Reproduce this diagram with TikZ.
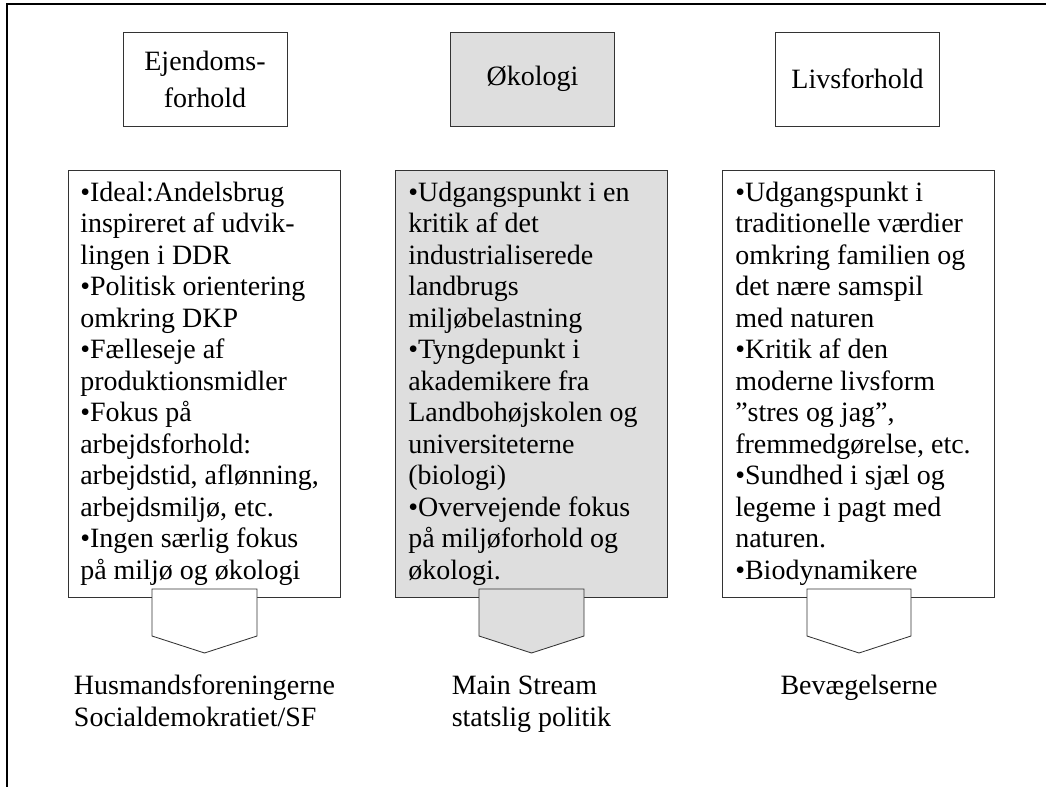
\documentclass[tikz,border=0pt]{standalone}
\usepackage{fontspec}
\setmainfont{Liberation Serif}
\usetikzlibrary{arrows, positioning}

\begin{document}
\begin{tikzpicture}[x=0.025cm, y=-0.025cm]
	\tikzstyle{Head} = [rectangle, minimum width=4.1cm, minimum height=2.35cm, align=center, draw=black!80, line width=0.6pt, font=\fontsize{19.9}{26.3}\selectfont]
	\tikzstyle{Box} = [rectangle, minimum width=6.8cm, minimum height=10.675cm, draw=black!80, line width=0.6pt]
	\tikzstyle{Txt} = [anchor=north west, inner sep=0pt, align=left, font=\fontsize{19.9}{22.4}\selectfont]
	\tikzstyle{Out} = [align=left, inner sep=0pt, font=\fontsize{19.9}{22.4}\selectfont]
	\tikzstyle{Arrow} = [draw=black!80, line width=0.6pt, fill=white]
	\tikzstyle{Shade} = [fill=black!13]

	\useasboundingbox (0,0) rectangle (1046,787);
	\draw [line width=1.5pt, black] (7,787) -- (7,4) -- (1046,4);

	% overskrifter
	\node (h1) [Head] at (205,79) {Ejendoms-\\forhold};
	\node (h2) [Head, Shade] at (532.5,79) {Økologi};
	\node (h3) [Head] at (857.5,79) {Livsforhold};

	% kasser
	\node (b1) [Box] at (204,383.5) {};
	\node (b2) [Box, Shade] at (531.5,383.5) {};
	\node (b3) [Box] at (858,383.5) {};

	\node (t1) [Txt] at (80,179) {\strut•Ideal:Andelsbrug\\
		inspireret af udvik-\\
		lingen i DDR\\
		•Politisk orientering\\
		omkring DKP\\
		•Fælleseje af\\
		produktionsmidler\\
		•Fokus på\\
		arbejdsforhold:\\
		arbejdstid, aflønning,\\
		arbejdsmiljø, etc.\\
		•Ingen særlig fokus\\
		på miljø og økologi};
	\node (t2) [Txt] at (408,179) {\strut•Udgangspunkt i en\\
		kritik af det\\
		industrialiserede\\
		landbrugs\\
		miljøbelastning\\
		•Tyngdepunkt i\\
		akademikere fra\\
		Landbohøjskolen og\\
		universiteterne\\
		(biologi)\\
		•Overvejende fokus\\
		på miljøforhold og\\
		økologi.};
	\node (t3) [Txt] at (735,179) {\strut•Udgangspunkt i\\
		traditionelle værdier\\
		omkring familien og\\
		det nære samspil\\
		med naturen\\
		•Kritik af den\\
		moderne livsform\\
		”stres og jag”,\\
		fremmedgørelse, etc.\\
		•Sundhed i sjæl og\\
		legeme i pagt med\\
		naturen.\\
		•Biodynamikere};

	% pile
	\draw [Arrow] (152,589) -- (257,589) -- (257,636) -- (204.5,653) -- (152,636) -- cycle;
	\draw [Arrow, Shade] (479,589) -- (584,589) -- (584,636) -- (531.5,653) -- (479,636) -- cycle;
	\draw [Arrow] (807,589) -- (911,589) -- (911,636) -- (859,653) -- (807,636) -- cycle;

	\node (o1) [Out] at (204.5,704) {\strut Husmandsforeningerne\\\strut Socialdemokratiet/SF};
	\node (o2) [Out] at (531.5,704) {\strut Main Stream\\\strut statslig politik};
	\node (o3) [Out] at (859,704) {\strut Bevægelserne\\\strut};
\end{tikzpicture}
\end{document}
